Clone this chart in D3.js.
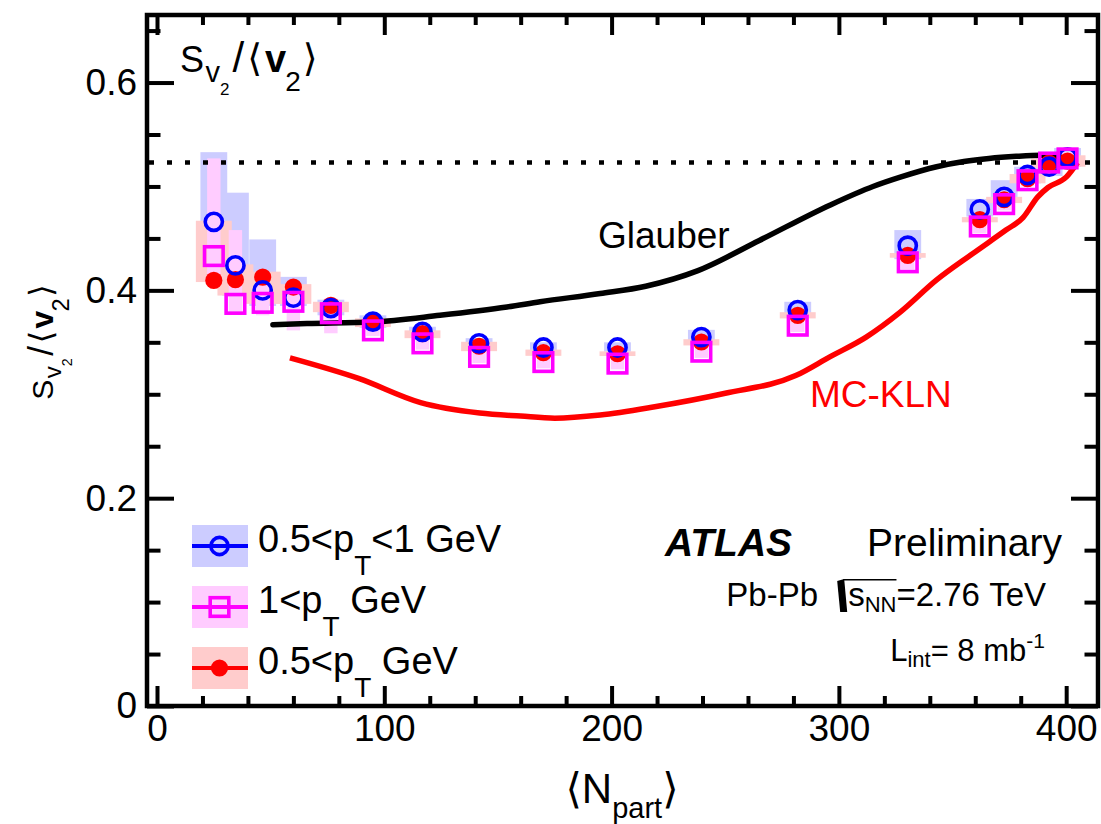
<!DOCTYPE html>
<html>
<head>
<meta charset="utf-8">
<title>Sv2 / &lt;v2&gt; versus Npart</title>
<script src="https://cdn.jsdelivr.net/npm/d3@7"></script>
<style>
  html, body { margin: 0; padding: 0; background: #ffffff; }
  svg text { font-family: "Liberation Sans", Arial, Helvetica, "DejaVu Sans", sans-serif; white-space: pre; }
</style>
</head>
<body>
<svg id="chart" width="1101" height="824"></svg>
<script>
// ---------------- data ----------------
// centrality bins, mean number of participants
const npart = [25.0, 34.5, 46.5, 60.0, 76.5, 95.0, 116.8, 141.7, 170.0, 202.6, 239.5, 281.9, 330.3, 362.0, 372.7, 383.0, 392.5, 400.6];

// 0.5 < pT < 1 GeV
const ratioMid = [0.466, 0.424, 0.400, 0.393, 0.383, 0.370, 0.360, 0.349, 0.345, 0.345, 0.355, 0.381, 0.443, 0.478, 0.490, 0.511, 0.519, 0.528];
const sysMidLo = [0.420, 0.395, 0.385, 0.385, 0.376, 0.364, 0.355, 0.344, 0.340, 0.341, 0.349, 0.375, 0.430, 0.471, 0.485, 0.503, 0.510, 0.519];
const sysMidHi = [0.533, 0.494, 0.449, 0.413, 0.391, 0.376, 0.365, 0.354, 0.350, 0.350, 0.362, 0.389, 0.458, 0.488, 0.506, 0.519, 0.528, 0.537];

// pT > 1 GeV
const ratioHigh = [0.433, 0.387, 0.388, 0.389, 0.378, 0.3615, 0.349, 0.336, 0.331, 0.3295, 0.341, 0.366, 0.427, 0.4615, 0.483, 0.506, 0.523, 0.527];
const sysHighLo = [0.415, 0.378, 0.376, 0.3615, 0.3587, 0.356, 0.343, 0.330, 0.325, 0.324, 0.335, 0.360, 0.420, 0.455, 0.477, 0.500, 0.517, 0.521];
const sysHighHi = [0.527, 0.458, 0.405, 0.405, 0.392, 0.367, 0.355, 0.342, 0.337, 0.335, 0.347, 0.372, 0.434, 0.468, 0.489, 0.512, 0.529, 0.533];

// pT > 0.5 GeV
const ratioAll = [0.4096, 0.4103, 0.4128, 0.4032, 0.3856, 0.3695, 0.3583, 0.3462, 0.340, 0.339, 0.3503, 0.376, 0.4337, 0.468, 0.4872, 0.5074, 0.5224, 0.5243];
const sysAllLo = [0.408, 0.395, 0.387, 0.387, 0.379, 0.3647, 0.354, 0.3415, 0.337, 0.3368, 0.347, 0.373, 0.4314, 0.4655, 0.484, 0.503, 0.518, 0.519];
const sysAllHi = [0.467, 0.425, 0.418, 0.406, 0.389, 0.373, 0.3615, 0.3505, 0.343, 0.3413, 0.353, 0.379, 0.4359, 0.4705, 0.490, 0.512, 0.527, 0.530];

// model curves
const glauberN     = [51, 66, 95, 124.5, 154, 168.5, 195, 215, 238, 265, 296, 315, 327, 343, 355, 366, 378, 389, 396, 401];
const glauberRatio = [0.367, 0.368, 0.3695, 0.376, 0.384, 0.389, 0.397, 0.404, 0.419, 0.448, 0.482, 0.500, 0.509, 0.519, 0.524, 0.527, 0.529, 0.530, 0.529, 0.525];
const klnN         = [58.5, 89, 116, 142, 160, 175, 195, 219, 250, 281, 296, 312, 327, 343, 358, 373.5, 381, 387.5, 392, 400, 405];
const klnRatio     = [0.335, 0.315, 0.292, 0.282, 0.279, 0.277, 0.280, 0.288, 0.301, 0.318, 0.336, 0.355, 0.379, 0.410, 0.434, 0.458, 0.470, 0.490, 0.499, 0.509, 0.523];

// reference level (dotted)
const gaussLimit = 0.523;

// axes
const xTickValues = [0, 100, 200, 300, 400];
const yTickValues = [0, 0.2, 0.4, 0.6];
const xDomain = [-4.4, 414];
const yDomain = [0, 0.665];

// ---------------- layout ----------------
const svg = d3.select("#chart");
const frame = { l: 147, r: 1098, t: 15, b: 706 };
const x = d3.scaleLinear().domain(xDomain).range([frame.l, frame.r]);
const y = d3.scaleLinear().domain(yDomain).range([frame.b, frame.t]);

const FONT = '"Liberation Sans", Arial, Helvetica, "DejaVu Sans", sans-serif';
const NBSP = "\u00A0";

svg.append("defs").append("clipPath").attr("id", "plotArea")
  .append("rect").attr("x", frame.l).attr("y", frame.t)
  .attr("width", frame.r - frame.l).attr("height", frame.b - frame.t);

const plot = svg.append("g").attr("clip-path", "url(#plotArea)");

// ---------------- series ----------------
const series = {
  mid:  { val: ratioMid,  lo: sysMidLo,  hi: sysMidHi,  color: "#0000ff", fill: "#ccccff", halfW: 5.9, marker: "circle" },
  high: { val: ratioHigh, lo: sysHighLo, hi: sysHighHi, color: "#ff00ff", fill: "#ffccff", halfW: 2.95, marker: "square" },
  all:  { val: ratioAll,  lo: sysAllLo,  hi: sysAllHi,  color: "#ff0000", fill: "#ffcccc", halfW: 7.9, marker: "dot" }
};

function drawBoxes(s) {
  plot.append("g").selectAll("rect").data(npart).join("rect")
    .attr("x", (d) => x(d - s.halfW))
    .attr("width", (d) => x(d + s.halfW) - x(d - s.halfW))
    .attr("y", (d, i) => y(s.hi[i]))
    .attr("height", (d, i) => y(s.lo[i]) - y(s.hi[i]))
    .attr("fill", s.fill);
}
drawBoxes(series.mid);
drawBoxes(series.all);
drawBoxes(series.high);

// dotted reference line
plot.append("line")
  .attr("x1", frame.l + 2).attr("x2", frame.r)
  .attr("y1", y(gaussLimit)).attr("y2", y(gaussLimit))
  .attr("stroke", "#000").attr("stroke-width", 4.5)
  .attr("stroke-dasharray", "5,13");

// model curves
const line = d3.line().curve(d3.curveMonotoneX).x((d) => x(d[0])).y((d) => y(d[1]));
plot.append("path").datum(d3.zip(glauberN, glauberRatio))
  .attr("d", line).attr("fill", "none").attr("stroke", "#000")
  .attr("stroke-width", 5.5).attr("stroke-linecap", "round");
plot.append("path").datum(d3.zip(klnN, klnRatio))
  .attr("d", line).attr("fill", "none").attr("stroke", "#ff0000")
  .attr("stroke-width", 5.5).attr("stroke-linecap", "butt");

// markers
function drawMarker(g, s, cx, cy) {
  if (s.marker === "circle") {
    g.append("circle").attr("cx", cx).attr("cy", cy).attr("r", 8.6)
      .attr("fill", "none").attr("stroke", s.color).attr("stroke-width", 3.6);
  } else if (s.marker === "square") {
    g.append("rect").attr("x", cx - 9.3).attr("y", cy - 9.3).attr("width", 18.6).attr("height", 18.6)
      .attr("fill", "none").attr("stroke", s.color).attr("stroke-width", 3.6);
  } else {
    g.append("circle").attr("cx", cx).attr("cy", cy).attr("r", 8.6).attr("fill", s.color);
  }
}
[series.all, series.mid, series.high].forEach((s) => {
  const g = plot.append("g");
  npart.forEach((n, i) => drawMarker(g, s, x(n), y(s.val[i])));
});

// ---------------- axes ----------------
function styleAxis(g) {
  g.select(".domain").remove();
  g.selectAll(".tick line").attr("stroke", "#000").attr("stroke-width", 4);
  g.selectAll(".tick text").attr("font-size", 37).attr("font-family", FONT).style("fill", "#000");
}
const xMinor = d3.range(0, 401, 20).filter((v) => !xTickValues.includes(v));
const yMinor = d3.range(0.05, 0.66, 0.05).filter((v) => !yTickValues.some((t) => Math.abs(t - v) < 1e-6));

svg.append("g").attr("transform", `translate(0,${frame.b})`)
  .call(d3.axisBottom(x).tickValues(xTickValues).tickSize(-20).tickPadding(9).tickFormat(d3.format("d")))
  .call(styleAxis);
svg.append("g").attr("transform", `translate(0,${frame.b})`)
  .call(d3.axisBottom(x).tickValues(xMinor).tickSize(-10).tickFormat(""))
  .call(styleAxis);
svg.append("g").attr("transform", `translate(0,${frame.t})`)
  .call(d3.axisTop(x).tickValues(xTickValues).tickSize(-20).tickFormat(""))
  .call(styleAxis);
svg.append("g").attr("transform", `translate(0,${frame.t})`)
  .call(d3.axisTop(x).tickValues(xMinor).tickSize(-10).tickFormat(""))
  .call(styleAxis);

svg.append("g").attr("transform", `translate(${frame.l},0)`)
  .call(d3.axisLeft(y).tickValues(yTickValues).tickSize(-27).tickPadding(10)
    .tickFormat((d) => (d === 0 ? "0" : d3.format(".1f")(d))))
  .call(styleAxis);
svg.append("g").attr("transform", `translate(${frame.l},0)`)
  .call(d3.axisLeft(y).tickValues(yMinor).tickSize(-13.5).tickFormat(""))
  .call(styleAxis);
svg.append("g").attr("transform", `translate(${frame.r},0)`)
  .call(d3.axisRight(y).tickValues(yTickValues).tickSize(-27).tickFormat(""))
  .call(styleAxis);
svg.append("g").attr("transform", `translate(${frame.r},0)`)
  .call(d3.axisRight(y).tickValues(yMinor).tickSize(-13.5).tickFormat(""))
  .call(styleAxis);

// frame
svg.append("rect").attr("x", frame.l).attr("y", frame.t)
  .attr("width", frame.r - frame.l).attr("height", frame.b - frame.t)
  .attr("fill", "none").attr("stroke", "#000").attr("stroke-width", 4.5);

// ---------------- rich text helper ----------------
function measure(str, size, weight, style) {
  const t = svg.append("text").attr("font-size", size).attr("font-family", FONT)
    .attr("font-weight", weight || "normal").attr("font-style", style || "normal").text(str);
  const w = t.node().getComputedTextLength();
  t.remove();
  return w;
}
function rich(parent, x0, y0, parts, anchor) {
  const widths = parts.map((p) => (p.sqrt ? p.w : measure(p.t, p.size, p.weight, p.style)) + (p.kern || 0));
  const total = d3.sum(widths);
  let cx = anchor === "end" ? x0 - total : anchor === "middle" ? x0 - total / 2 : x0;
  parts.forEach((p, i) => {
    if (p.sqrt) {
      const over = d3.sum(widths.slice(i + 1, i + 1 + p.span));
      const top = y0 - p.h, bot = y0 + 6;
      parent.append("path")
        .attr("d", `M${cx + 2},${top + 2} L${cx + 9},${top} L${cx + 12},${bot} L${cx + 5},${bot} Z`)
        .attr("fill", "#000");
      parent.append("line").attr("x1", cx + 8).attr("x2", cx + p.w + over)
        .attr("y1", top + 0.8).attr("y2", top + 0.8).attr("stroke", "#000").attr("stroke-width", 1.6);
    } else {
      parent.append("text").attr("x", cx).attr("y", y0 + (p.dy || 0))
        .attr("font-size", p.size)
        .attr("font-weight", p.weight || "normal").attr("font-style", p.style || "normal")
        .style("fill", p.color || "#000")
        .text(p.t);
    }
    cx += widths[i];
  });
}

// S_{v2}/<v2> label, scaled by k
function ratioLabel(k) {
  return [
    { t: "S", size: 36 * k, kern: 1.5 * k },
    { t: "v", size: 29 * k, dy: 10 * k },
    { t: "2", size: 17 * k, dy: 23 * k, kern: 3 * k },
    { t: "/", size: 42 * k, kern: 3 * k },
    { t: "\u27E8", size: 38 * k, dy: -1 * k, kern: 3 * k },
    { t: "v", size: 38 * k, weight: "bold", kern: -1 * k },
    { t: "2", size: 28 * k, dy: 19 * k, kern: 2 * k },
    { t: "\u27E9", size: 38 * k, dy: -1 * k }
  ];
}
rich(svg, 180, 72, ratioLabel(1), "start");

// y-axis title
const yTitle = svg.append("g").attr("transform", "translate(53,342) rotate(-90)");
rich(yTitle, 0, 0, ratioLabel(0.84), "middle");

// x-axis title
rich(svg, 622, 803, [
  { t: "\u27E8", size: 42 },
  { t: "N", size: 42 },
  { t: "part", size: 29, dy: 15 },
  { t: "\u27E9", size: 42 }
], "middle");

// model labels
svg.append("text").attr("x", 598).attr("y", 248).attr("font-size", 37).style("fill", "#000").text("Glauber");
svg.append("text").attr("x", 810).attr("y", 407).attr("font-size", 37).style("fill", "#ff0000").text("MC-KLN");

// experiment labels
svg.append("text").attr("x", 665).attr("y", 556).attr("font-size", 39).style("fill", "#000")
  .attr("font-weight", "bold").attr("font-style", "italic").text("ATLAS");
svg.append("text").attr("x", 1062).attr("y", 556).attr("font-size", 39).style("fill", "#000")
  .attr("text-anchor", "end").text("Preliminary");

rich(svg, 1046, 606, [
  { t: "Pb-Pb" + NBSP, size: 33, kern: 8 },
  { sqrt: true, w: 13, h: 27, span: 2 },
  { t: "s", size: 33 },
  { t: "NN", size: 22, dy: 6 },
  { t: "=2.76" + NBSP + "TeV", size: 33 }
], "end");

rich(svg, 1045, 661, [
  { t: "L", size: 31 },
  { t: "int", size: 22, dy: 6 },
  { t: "=" + NBSP + "8" + NBSP, size: 31 },
  { t: "mb", size: 31 },
  { t: "-1", size: 21, dy: -13 }
], "end");

// ---------------- legend ----------------
const legendRows = [
  { s: series.mid,  parts: [{ t: "0.5<p", size: 38 }, { t: "T", size: 28, dy: 23 }, { t: "<1" + NBSP + "GeV", size: 38 }] },
  { s: series.high, parts: [{ t: "1<p", size: 38 }, { t: "T", size: 28, dy: 23 }, { t: NBSP + "GeV", size: 38 }] },
  { s: series.all,  parts: [{ t: "0.5<p", size: 38 }, { t: "T", size: 28, dy: 23 }, { t: NBSP + "GeV", size: 38 }] }
];
legendRows.forEach((row, i) => {
  const cy = 546 + i * 61;
  const g = svg.append("g");
  g.append("rect").attr("x", 192).attr("y", cy - 21).attr("width", 56).attr("height", 42).attr("fill", row.s.fill);
  g.append("line").attr("x1", 192).attr("x2", 248).attr("y1", cy).attr("y2", cy)
    .attr("stroke", row.s.color).attr("stroke-width", 4);
  drawMarker(g, row.s, 219.5, cy);
  rich(g, 258, cy + 6, row.parts, "start");
});
</script>
</body>
</html>
